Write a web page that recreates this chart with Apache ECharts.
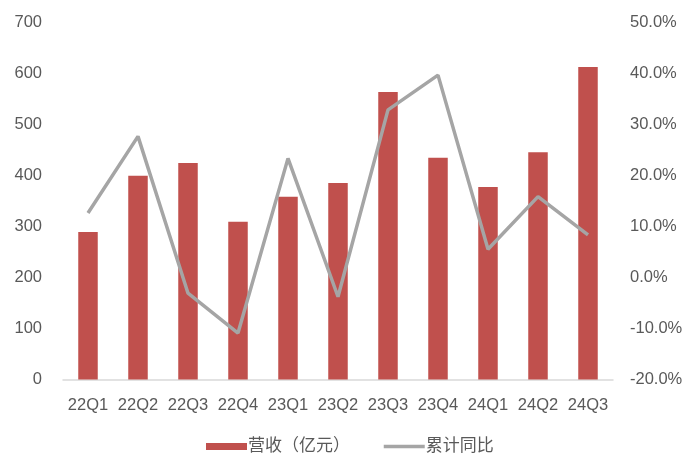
<!DOCTYPE html>
<html><head><meta charset="utf-8">
<script src="https://cdn.jsdelivr.net/npm/echarts@6/dist/echarts.min.js"></script>
<style>html,body{margin:0;padding:0;background:#fff}#c{width:697px;height:472px}</style>
</head><body><div id="c"></div>
<script>
const categories = ['22Q1','22Q2','22Q3','22Q4','23Q1','23Q2','23Q3','23Q4','24Q1','24Q2','24Q3'];
const revenue = [289, 399, 424, 309, 358, 385, 563, 434, 377, 445, 612];
const cumYoY = [12.6, 27.6, -3.1, -10.9, 23.3, -3.8, 32.8, 39.6, 5.5, 15.8, 8.3];
const leftTicks = [0, 700, 100];
const rightTicks = [-20, 50, 10];
const seriesNames = ['营收（亿元）', '累计同比'];

const font = '"Liberation Sans", Arial, "Noto Sans CJK SC", sans-serif';
const chart = echarts.init(document.getElementById('c'));
chart.setOption({
  animation: false,
  backgroundColor: '#fff',
  grid: { left: 63, right: 84, top: 22, bottom: 92.5, containLabel: false },
  legend: {
    left: 201, top: 433, itemGap: 32,
    textStyle: { color: '#595959', fontSize: 17, fontFamily: font, padding: [0,0,0,-4] },
    data: [
      { name: seriesNames[0], icon: 'rect', itemStyle: { color: '#c0504d' } },
      { name: seriesNames[1], itemStyle: { opacity: 0 }, lineStyle: { color: '#a5a5a5', width: 3.5 } }
    ],
    itemWidth: 41, itemHeight: 7
  },
  xAxis: {
    type: 'category', data: categories,
    axisLine: { lineStyle: { color: '#d9d9d9', width: 1.5 } },
    axisTick: { show: false },
    axisLabel: { color: '#595959', fontSize: 16.5, fontFamily: font, margin: 18, interval: 0, hideOverlap: false }
  },
  yAxis: [
    { type: 'value', min: leftTicks[0], max: leftTicks[1], interval: leftTicks[2],
      splitLine: { show: false }, axisLine: { show: false }, axisTick: { show: false },
      axisLabel: { color: '#595959', fontSize: 16.5, fontFamily: font, margin: 21 } },
    { type: 'value', min: rightTicks[0], max: rightTicks[1], interval: rightTicks[2],
      splitLine: { show: false }, axisLine: { show: false }, axisTick: { show: false },
      axisLabel: { color: '#595959', fontSize: 16.5, fontFamily: font, margin: 17,
        formatter: v => v.toFixed(1) + '%' } }
  ],
  series: [
    { name: seriesNames[0], type: 'bar', data: revenue, barWidth: '39%', yAxisIndex: 0,
      itemStyle: { color: '#c0504d' } },
    { name: seriesNames[1], type: 'line', data: cumYoY, yAxisIndex: 1,
      symbol: 'none', lineStyle: { color: '#a5a5a5', width: 3.5 }, itemStyle: { color: '#a5a5a5' } }
  ]
});
</script></body></html>
